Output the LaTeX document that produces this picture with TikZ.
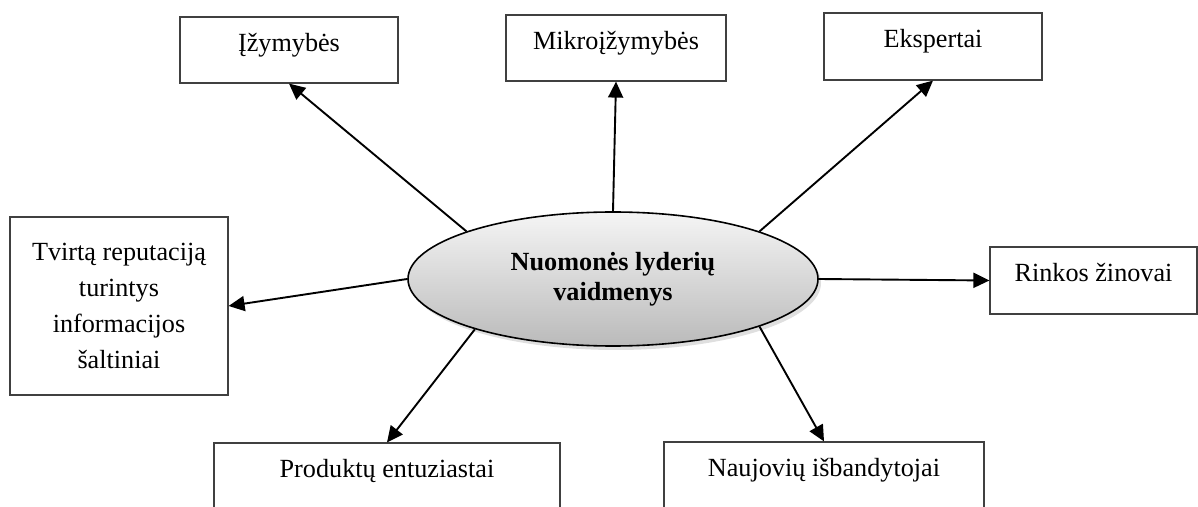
\documentclass[tikz,border=0pt]{standalone}
\usepackage{fontspec}
\setmainfont{Liberation Serif}
\usetikzlibrary{arrows.meta}
\usetikzlibrary{shapes.geometric}
\usetikzlibrary{shadows}

\tikzset{
    dezute/.style={draw=black!75, line width=0.6pt, fill=white, align=center, inner sep=0pt,
        font=\fontsize{13.1}{18}\selectfont},
    eilute/.style={text height=9pt, text depth=7.5pt},
    rodykle/.style={line width=0.95pt, -{Triangle[length=8pt,width=7.5pt]}}
}

\begin{document}
\begin{tikzpicture}[x=0.5pt, y=-0.5pt]
        \useasboundingbox (0,0) rectangle (1198,507);

        % Centras
        \node[ellipse, draw, line width=0.8pt, top color=black!4, bottom color=black!27,
            drop shadow={shadow xshift=1.5pt, shadow yshift=-2pt, opacity=0.25},
            minimum width=205pt, minimum height=67pt, inner sep=0pt, align=center,
            font=\fontsize{13.1}{15}\selectfont\bfseries]
            (centras) at (613,279) {Nuomonės lyderių\\vaidmenys};

        % Viršutinės dėžutės
        \node[dezute, eilute, minimum width=109pt, minimum height=33pt] (izym) at (289,50) {Įžymybės};
        \node[dezute, eilute, minimum width=110pt, minimum height=33pt] (mikro) at (616,48) {Mikroįžymybės};
        \node[dezute, eilute, minimum width=109pt, minimum height=33.5pt] (eksp) at (933,46.5) {Ekspertai};

        % Šoninės dėžutės
        \node[dezute, eilute, minimum width=103.5pt, minimum height=33.5pt] (rinkos) at (1093.5,280.5) {Rinkos žinovai};
        \node[dezute, minimum width=109pt, minimum height=89pt] (tvirta) at (119,306)
            {Tvirtą reputaciją\\turintys\\informacijos\\šaltiniai};

        % Apatinės dėžutės
        \node[dezute, eilute, minimum width=173pt, minimum height=33pt] (produkt) at (387,476) {Produktų entuziastai};
        \node[dezute, eilute, minimum width=160pt, minimum height=33pt] (naujov) at (824,475) {Naujovių išbandytojai};

        % Rodyklės
        \foreach \kampas/\kur in {162/izym.south, 90/mikro.south, 18/eksp.south, 0/rinkos.west,
                180/tvirta.east, 200/produkt.north, -18/naujov.north}
            \draw[rodykle] (centras.\kampas) -- (\kur);
\end{tikzpicture}
\end{document}
